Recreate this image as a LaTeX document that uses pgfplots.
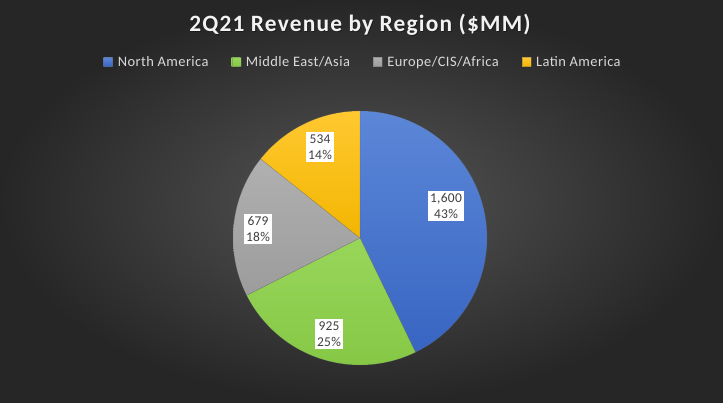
\documentclass[border=0pt]{standalone}
\usepackage{pgfplots}
\pgfplotsset{compat=1.18}
\usepackage{pgfplotstable}
\usepackage{fontspec}
\setmainfont{Carlito}

\definecolor{bgin}{HTML}{555555}
\definecolor{bgout}{HTML}{262626}
\definecolor{naTop}{HTML}{5C87D8}
\definecolor{naBot}{HTML}{3865C2}
\definecolor{meTop}{HTML}{98D65A}
\definecolor{meBot}{HTML}{86C846}
\definecolor{euTop}{HTML}{B0B0B0}
\definecolor{euBot}{HTML}{9C9C9C}
\definecolor{laTop}{HTML}{FFC830}
\definecolor{laBot}{HTML}{F2B600}
\definecolor{titlecol}{HTML}{F2F2F2}
\definecolor{legtext}{HTML}{D9D9D9}
\definecolor{labtext}{HTML}{404040}

\pgfplotstableread{
region value
NA 1600
ME 925
EU 679
LA 534
}\piedata

\begin{document}
\begin{tikzpicture}
\pgfplotstablegetelem{0}{value}\of\piedata \let\vA\pgfplotsretval
\pgfplotstablegetelem{1}{value}\of\piedata \let\vB\pgfplotsretval
\pgfplotstablegetelem{2}{value}\of\piedata \let\vC\pgfplotsretval
\pgfplotstablegetelem{3}{value}\of\piedata \let\vD\pgfplotsretval
\pgfmathsetmacro\tot{\vA+\vB+\vC+\vD}
\pgfmathsetmacro\aO{90}
\pgfmathsetmacro\aA{90-360*(\vA/\tot)}
\pgfmathsetmacro\aB{\aA-360*(\vB/\tot)}
\pgfmathsetmacro\aC{\aB-360*(\vC/\tot)}
\pgfmathsetmacro\aD{\aC-360*(\vD/\tot)}
\path[use as bounding box] (0,0) rectangle (723bp,403bp);
\shade[inner color=bgin, outer color=bgout] (0,0) rectangle (723bp,403bp);
\begin{axis}[
  at={(0,0)}, anchor=south west,
  width=723bp, height=403bp, scale only axis,
  xmin=0, xmax=723, ymin=0, ymax=403,
  hide axis, clip=false,
  legend columns=4,
  legend style={at={(axis cs:363,341)}, anchor=center, draw=none, fill=none,
    text=legtext, font=\fontsize{14.5}{17}\selectfont\addfontfeature{LetterSpace=3},
    /tikz/every even column/.append style={column sep=21bp},
    /tikz/every odd column/.append style={column sep=3bp},
    inner sep=0pt},
  legend image code/.code={\fill[#1] (0bp,-4.5bp) rectangle (9bp,4.5bp);},
]
\addplot[draw=black!60, draw opacity=0.4, line width=0.4pt, top color=naTop, bottom color=naBot, domain=\aA:\aO, samples=90, variable=\t]
  ({360+127*cos(\t)}, {165+127*sin(\t)}) -- (axis cs:360,165) -- cycle;
\addlegendentry{North America}
\addplot[draw=black!60, draw opacity=0.4, line width=0.4pt, top color=meTop, bottom color=meBot, domain=\aB:\aA, samples=60, variable=\t]
  ({360+127*cos(\t)}, {165+127*sin(\t)}) -- (axis cs:360,165) -- cycle;
\addlegendentry{Middle East/Asia}
\addplot[draw=black!60, draw opacity=0.4, line width=0.4pt, top color=euTop, bottom color=euBot, domain=\aC:\aB, samples=50, variable=\t]
  ({360+127*cos(\t)}, {165+127*sin(\t)}) -- (axis cs:360,165) -- cycle;
\addlegendentry{Europe/CIS/Africa}
\addplot[draw=black!60, draw opacity=0.4, line width=0.4pt, top color=laTop, bottom color=laBot, domain=\aD:\aC, samples=40, variable=\t]
  ({360+127*cos(\t)}, {165+127*sin(\t)}) -- (axis cs:360,165) -- cycle;
\addlegendentry{Latin America}

\node[text=black, opacity=0.35, font=\bfseries\fontsize{23.5}{27}\selectfont\addfontfeature{LetterSpace=5}] at (axis cs:360.8,377.2) {2Q21 Revenue by Region (\$MM)};
\node[text=titlecol, font=\bfseries\fontsize{23.5}{27}\selectfont\addfontfeature{LetterSpace=5}] at (axis cs:360,378) {2Q21 Revenue by Region (\$MM)};

\tikzset{lab/.style={fill=white, text=labtext, align=center, inner xsep=2.5pt, inner ysep=2.5pt, font=\fontsize{13.5}{16}\selectfont\addfontfeature{LetterSpace=2}}}
\node[lab] at (axis cs:446,197) {1,600\\43\%};
\node[lab] at (axis cs:329,69) {925\\25\%};
\node[lab] at (axis cs:258,174) {679\\18\%};
\node[lab] at (axis cs:320,256) {534\\14\%};
\end{axis}
\end{tikzpicture}
\end{document}
